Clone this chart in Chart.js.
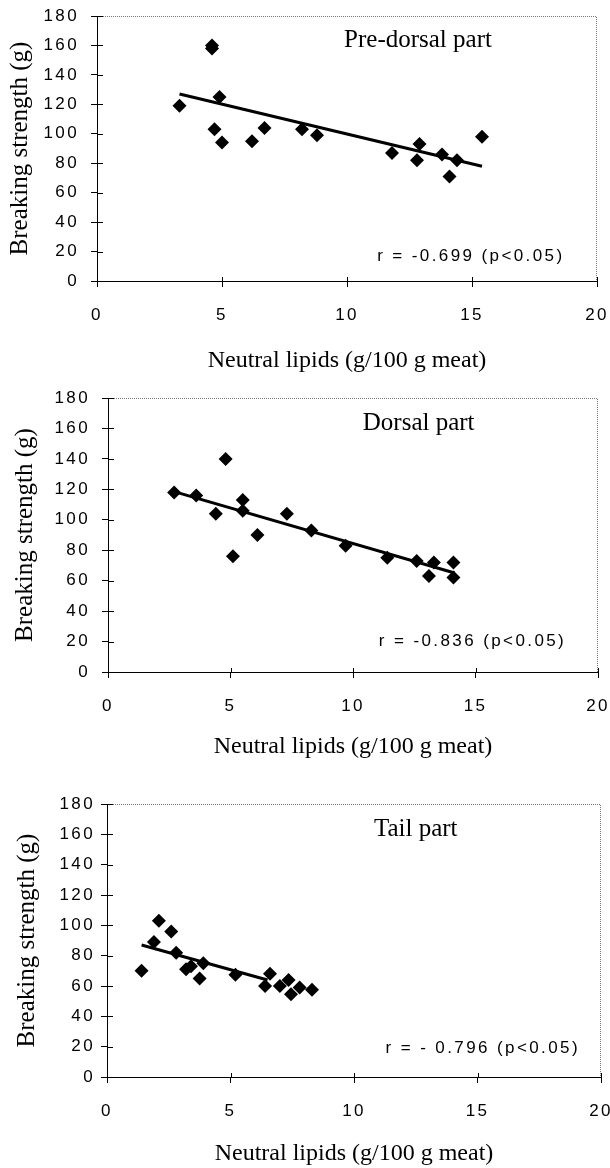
<!DOCTYPE html>
<html>
<head>
<meta charset="utf-8">
<script src="https://cdn.jsdelivr.net/npm/chart.js@4.4.0/dist/chart.umd.min.js"></script>
<style>
  html, body { margin: 0; padding: 0; background: #fff; }
  body { width: 610px; height: 1168px; position: relative; overflow: hidden; }
  canvas { position: absolute; left: 0; }
</style>
</head>
<body>
<canvas id="preDorsalChart" width="610" height="385" style="top:0px"></canvas>
<canvas id="dorsalChart" width="610" height="400" style="top:370px"></canvas>
<canvas id="tailChart" width="610" height="408" style="top:760px"></canvas>
<script>
// axis ticks
var xTickValues = [0, 5, 10, 15, 20];
var yTickValues = [0, 20, 40, 60, 80, 100, 120, 140, 160, 180];

// Pre-dorsal part
var preDorsalX = [3.3, 4.6, 4.6, 4.9, 4.7, 5.0, 6.2, 6.7, 8.2, 8.8, 11.8, 12.9, 12.8, 13.8, 14.4, 14.1, 15.4];
var preDorsalY = [119, 160, 158, 125, 103, 94, 95, 104, 103, 99, 87, 93, 82, 86, 82, 71, 98];
var preDorsalFitX = [3.3, 15.4];
var preDorsalFitY = [127, 78];

// Dorsal part
var dorsalX = [2.7, 3.6, 4.4, 4.8, 5.1, 5.5, 5.5, 6.1, 7.3, 8.3, 9.7, 11.4, 12.6, 13.3, 13.1, 14.1, 14.1];
var dorsalY = [118, 116, 104, 140, 76, 113, 106, 90, 104, 93, 83, 75, 73, 72, 63, 72, 62];
var dorsalFitX = [2.7, 14.15];
var dorsalFitY = [118.5, 65];

// Tail part
var tailX = [1.4, 1.9, 2.1, 2.6, 2.8, 3.2, 3.4, 3.75, 3.9, 5.2, 6.4, 6.6, 7.0, 7.35, 7.45, 7.8, 8.3];
var tailY = [70, 89, 103, 96, 82, 71, 73, 65, 75, 67.5, 60, 68, 60, 64, 54.5, 59, 57.5];
var tailFitX = [1.4, 6.5];
var tailFitY = [87, 64];

var xTitle = 'Neutral lipids (g/100 g meat)';
var yTitle = 'Breaking strength (g)';

Chart.defaults.font.family = '"Liberation Sans", Arial, sans-serif';
Chart.defaults.font.size = 17;
Chart.defaults.color = '#000';

function toPoints(xs, ys) {
    return xs.map(function (x, i) { return { x: x, y: ys[i] }; });
}

// frame, inner tick marks, labels and axis titles
var figureText = {
    id: 'figureText',
    beforeDraw: function (chart) {
        chart.ctx.letterSpacing = '2.4px';
    },
    afterDraw: function (chart, args, o) {
        var ctx = chart.ctx, a = chart.chartArea;
        var sx = chart.scales.x, sy = chart.scales.y;
        ctx.save();
        ctx.letterSpacing = '0px';

        // dotted frame top & right
        ctx.strokeStyle = '#777';
        ctx.lineWidth = 1;
        ctx.setLineDash([1, 1]);
        ctx.beginPath();
        ctx.moveTo(a.left, a.top + 0.5);
        ctx.lineTo(a.right - 0.5, a.top + 0.5);
        ctx.lineTo(a.right - 0.5, a.bottom);
        ctx.stroke();
        ctx.setLineDash([]);

        // tick marks crossing into the plot
        ctx.strokeStyle = '#000';
        ctx.beginPath();
        yTickValues.forEach(function (v) {
            var py = Math.round(sy.getPixelForValue(v)) + 0.5;
            ctx.moveTo(a.left, py);
            ctx.lineTo(a.left + 6, py);
        });
        xTickValues.forEach(function (v) {
            var px = Math.round(sx.getPixelForValue(v)) + 0.5;
            ctx.moveTo(px, a.bottom);
            ctx.lineTo(px, a.bottom - 4);
        });
        ctx.stroke();

        ctx.fillStyle = '#000';
        // part name
        ctx.font = '25px "Liberation Serif", "Times New Roman", serif';
        ctx.textAlign = 'center';
        ctx.textBaseline = 'middle';
        ctx.fillText(o.part, sx.getPixelForValue(o.partAt[0]), sy.getPixelForValue(o.partAt[1]));

        // axis titles
        ctx.font = '24px "Liberation Serif", "Times New Roman", serif';
        ctx.fillText(xTitle, (a.left + a.right) / 2, a.bottom + o.xTitleOffset);
        ctx.save();
        ctx.translate(o.yTitleX, (a.top + a.bottom) / 2);
        ctx.rotate(-Math.PI / 2);
        ctx.font = '25px "Liberation Serif", "Times New Roman", serif';
        ctx.fillText(yTitle, 0, 0);
        ctx.restore();

        // correlation
        ctx.letterSpacing = '2.4px';
        ctx.font = '17px "Liberation Sans", Arial, sans-serif';
        ctx.textAlign = 'right';
        ctx.fillText(o.r, sx.getPixelForValue(o.rAt[0]), sy.getPixelForValue(o.rAt[1]));
        ctx.restore();
    }
};

function makeChart(id, xs, ys, fitX, fitY, lay, text) {
    var canvas = document.getElementById(id);
    return new Chart(canvas.getContext('2d'), {
        type: 'scatter',
        data: {
            datasets: [{
                label: 'data',
                data: toPoints(xs, ys),
                pointStyle: 'rectRot',
                pointRadius: 7,
                pointBackgroundColor: '#000',
                pointBorderColor: '#000',
                pointBorderWidth: 0
            }, {
                label: 'fit',
                data: toPoints(fitX, fitY),
                showLine: true,
                borderColor: '#000',
                borderWidth: 3,
                pointRadius: 0
            }]
        },
        options: {
            responsive: false,
            animation: false,
            events: [],
            layout: {
                padding: { left: 0, top: lay.top, right: 610 - lay.right, bottom: 0 }
            },
            plugins: {
                legend: { display: false },
                tooltip: { enabled: false },
                figureText: text
            },
            scales: {
                x: {
                    type: 'linear',
                    min: 0,
                    max: 20,
                    afterBuildTicks: function (s) { s.ticks = xTickValues.map(function (v) { return { value: v }; }); },
                    afterFit: function (s) { s.height = canvas.height - lay.bottom; s.paddingLeft = 0; s.paddingRight = 0; },
                    border: { color: '#000', width: 1 },
                    grid: { drawOnChartArea: false, color: '#000', tickLength: 6 },
                    ticks: { padding: lay.xPad, maxRotation: 0, autoSkip: false }
                },
                y: {
                    type: 'linear',
                    min: 0,
                    max: 180,
                    afterBuildTicks: function (s) { s.ticks = yTickValues.map(function (v) { return { value: v }; }); },
                    afterFit: function (s) { s.width = lay.left; s.paddingTop = 0; s.paddingBottom = 0; },
                    border: { color: '#000', width: 1 },
                    grid: { drawOnChartArea: false, color: '#000', tickLength: 6 },
                    ticks: { padding: lay.yPad, autoSkip: false }
                }
            }
        },
        plugins: [figureText]
    });
}

makeChart('preDorsalChart', preDorsalX, preDorsalY, preDorsalFitX, preDorsalFitY,
    { left: 97, right: 597, top: 16, bottom: 281, xPad: 18, yPad: 12 },
    { part: 'Pre-dorsal part', partAt: [12.84, 163.7], r: 'r = -0.699 (p<0.05)', rAt: [18.7, 16.5], xTitleOffset: 80, yTitleX: 20 });

makeChart('dorsalChart', dorsalX, dorsalY, dorsalFitX, dorsalFitY,
    { left: 108, right: 598, top: 28, bottom: 302, xPad: 18, yPad: 12 },
    { part: 'Dorsal part', partAt: [12.68, 163], r: 'r = -0.836 (p<0.05)', rAt: [18.7, 20], xTitleOffset: 75, yTitleX: 25 });

makeChart('tailChart', tailX, tailY, tailFitX, tailFitY,
    { left: 107, right: 601, top: 44, bottom: 317, xPad: 18, yPad: 6 },
    { part: 'Tail part', partAt: [12.5, 163], r: 'r = - 0.796 (p<0.05)', rAt: [19.15, 19], xTitleOffset: 77, yTitleX: 27 });
</script>
</body>
</html>
